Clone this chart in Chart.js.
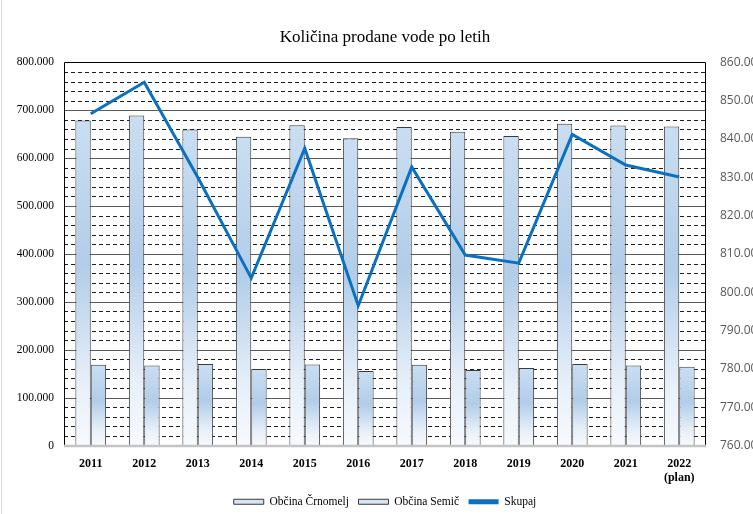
<!DOCTYPE html>
<html>
<head>
<meta charset="utf-8">
<script src="https://cdn.jsdelivr.net/npm/chart.js@4/dist/chart.umd.min.js"></script>
<style>
  html, body { margin: 0; padding: 0; background: #ffffff; }
  #wrap { width: 753px; height: 514px; position: relative; }
</style>
</head>
<body>
<div id="wrap"><canvas id="c" width="753" height="514"></canvas></div>
<script>
// ---- data ----
const categories = ['2011', '2012', '2013', '2014', '2015', '2016', '2017', '2018', '2019', '2020', '2021', ['2022', '(plan)']];
const crnomelj = [678500, 689000, 660000, 645000, 669000, 641500, 665000, 655000, 646500, 672000, 668000, 666000];
const semic    = [168700, 167000, 170000, 159700, 169000, 155600, 168700, 157600, 161800, 170000, 167000, 164600];
const skupaj   = [846600, 854800, 830000, 803700, 837600, 796500, 832700, 809700, 807600, 841200, 833200, 830100];
const seriesNames = ['Občina Črnomelj', 'Občina Semič', 'Skupaj'];
const chartTitle = 'Količina prodane vode po letih';

function fmt(v) {
  if (v === 0) return '0';
  const s = Math.round(v).toString();
  return s.replace(/\B(?=(\d{3})+(?!\d))/g, '.');
}

const gradStops = [[0, '#cadef2'], [0.45, '#b2cde9'], [0.8, '#e6eff9'], [1, '#f7fafd']];
function barGrad(ctx) {
  const chart = ctx.chart;
  if (!chart.chartArea || ctx.type !== 'data' || !chart.scales.y) return '#c6dbf0';
  const ys = chart.scales.y;
  const top = ys.getPixelForValue(ctx.raw);
  const bot = ys.getPixelForValue(0);
  if (!isFinite(top) || !isFinite(bot) || bot - top < 1) return '#c6dbf0';
  const g = chart.ctx.createLinearGradient(0, top, 0, bot);
  gradStops.forEach(s => g.addColorStop(s[0], s[1]));
  return g;
}

const gridPlugin = {
  id: 'gridPlugin',
  beforeDatasetsDraw(chart) {
    const ctx = chart.ctx, a = chart.chartArea, ys = chart.scales.y;
    ctx.save();
    for (let v = 20000; v < 800000; v += 20000) {
      const y = Math.round(ys.getPixelForValue(v)) + 0.5;
      ctx.beginPath();
      if (v % 100000 === 0) {
        ctx.setLineDash([]);
        ctx.strokeStyle = '#5a5a5a';
        ctx.lineWidth = 1.2;
      } else {
        ctx.setLineDash([4, 3]);
        ctx.strokeStyle = '#1e1e1e';
        ctx.lineWidth = 1;
      }
      ctx.moveTo(a.left, y);
      ctx.lineTo(a.right, y);
      ctx.stroke();
    }
    ctx.restore();
  },
  afterDatasetsDraw(chart) {
    const ctx = chart.ctx, a = chart.chartArea;
    ctx.save();
    ctx.setLineDash([]);
    ctx.strokeStyle = '#000000';
    ctx.lineWidth = 1;
    ctx.beginPath();
    ctx.moveTo(Math.round(a.left) + 0.5, Math.round(a.bottom));
    ctx.lineTo(Math.round(a.left) + 0.5, Math.round(a.top) + 0.5);
    ctx.lineTo(Math.round(a.right) - 0.5, Math.round(a.top) + 0.5);
    ctx.lineTo(Math.round(a.right) - 0.5, Math.round(a.bottom));
    ctx.stroke();
    ctx.strokeStyle = '#c4c4c4';
    ctx.lineWidth = 2.5;
    ctx.beginPath();
    ctx.moveTo(a.left, a.bottom + 0.5);
    ctx.lineTo(a.right, a.bottom + 0.5);
    ctx.stroke();
    // outer frame line on left edge
    ctx.strokeStyle = '#d9d9d9';
    ctx.lineWidth = 1;
    ctx.beginPath();
    ctx.moveTo(1.5, 0);
    ctx.lineTo(1.5, chart.height);
    ctx.stroke();
    ctx.restore();
  }
};

new Chart(document.getElementById('c'), {
  type: 'bar',
  data: {
    labels: categories,
    datasets: [
      {
        type: 'bar', label: seriesNames[0], data: crnomelj, yAxisID: 'y', order: 1,
        backgroundColor: barGrad, borderColor: '#3a3a3a', borderWidth: 1,
        categoryPercentage: 0.575, barPercentage: 1.0
      },
      {
        type: 'bar', label: seriesNames[1], data: semic, yAxisID: 'y', order: 1,
        backgroundColor: barGrad, borderColor: '#3a3a3a', borderWidth: 1,
        categoryPercentage: 0.575, barPercentage: 1.0
      },
      {
        type: 'line', label: seriesNames[2], data: skupaj, yAxisID: 'y1', order: 0,
        borderColor: '#0a70c2', backgroundColor: '#0a70c2', borderWidth: 3,
        pointRadius: 0, tension: 0, fill: false
      }
    ]
  },
  options: {
    responsive: false,
    animation: false,
    layout: { padding: { left: 0, right: 0, top: 0, bottom: -3.5 } },
    plugins: {
      tooltip: { enabled: false },
      title: {
        display: true, text: chartTitle, fullSize: false,
        color: '#000000',
        font: { family: 'Liberation Serif', size: 17, weight: 'normal' },
        padding: { top: 27, bottom: 15 }
      },
      legend: {
        position: 'bottom', fullSize: false,
        labels: {
          color: '#000000',
          font: { family: 'Liberation Serif', size: 11.5 },
          boxWidth: 30, boxHeight: 5, padding: 9.5,
          generateLabels: () => [
            { text: seriesNames[0], fillStyle: '#d6e5f5', strokeStyle: '#3a3a3a', lineWidth: 1, datasetIndex: 0 },
            { text: seriesNames[1], fillStyle: '#d6e5f5', strokeStyle: '#3a3a3a', lineWidth: 1, datasetIndex: 1 },
            { text: seriesNames[2], fillStyle: '#0a70c2', strokeStyle: '#0a70c2', lineWidth: 0, datasetIndex: 2 }
          ]
        }
      }
    },
    scales: {
      x: {
        offset: true,
        grid: { display: false, drawTicks: false },
        border: { display: false },
        ticks: {
          color: '#000000', padding: 11, maxRotation: 0, autoSkip: false,
          font: { family: 'Liberation Serif', size: 12, weight: 'bold' }
        },
        afterFit: (s) => { s.height = 41; }
      },
      y: {
        position: 'left', min: 0, max: 800000,
        grid: { display: false, drawTicks: false },
        border: { display: false },
        ticks: {
          stepSize: 100000, color: '#000000', padding: 10,
          font: { family: 'Liberation Serif', size: 11.5 },
          callback: (v) => fmt(v)
        },
        afterFit: (s) => { s.width = 64; }
      },
      y1: {
        position: 'right', min: 760000, max: 860000,
        grid: { display: false, drawTicks: false },
        border: { display: false },
        ticks: {
          stepSize: 10000, color: '#595959', padding: 14,
          font: { family: 'Open Sans', size: 12 },
          callback: (v) => fmt(v)
        },
        afterFit: (s) => { s.width = 47; }
      }
    }
  },
  plugins: [gridPlugin]
});
</script>
</body>
</html>
